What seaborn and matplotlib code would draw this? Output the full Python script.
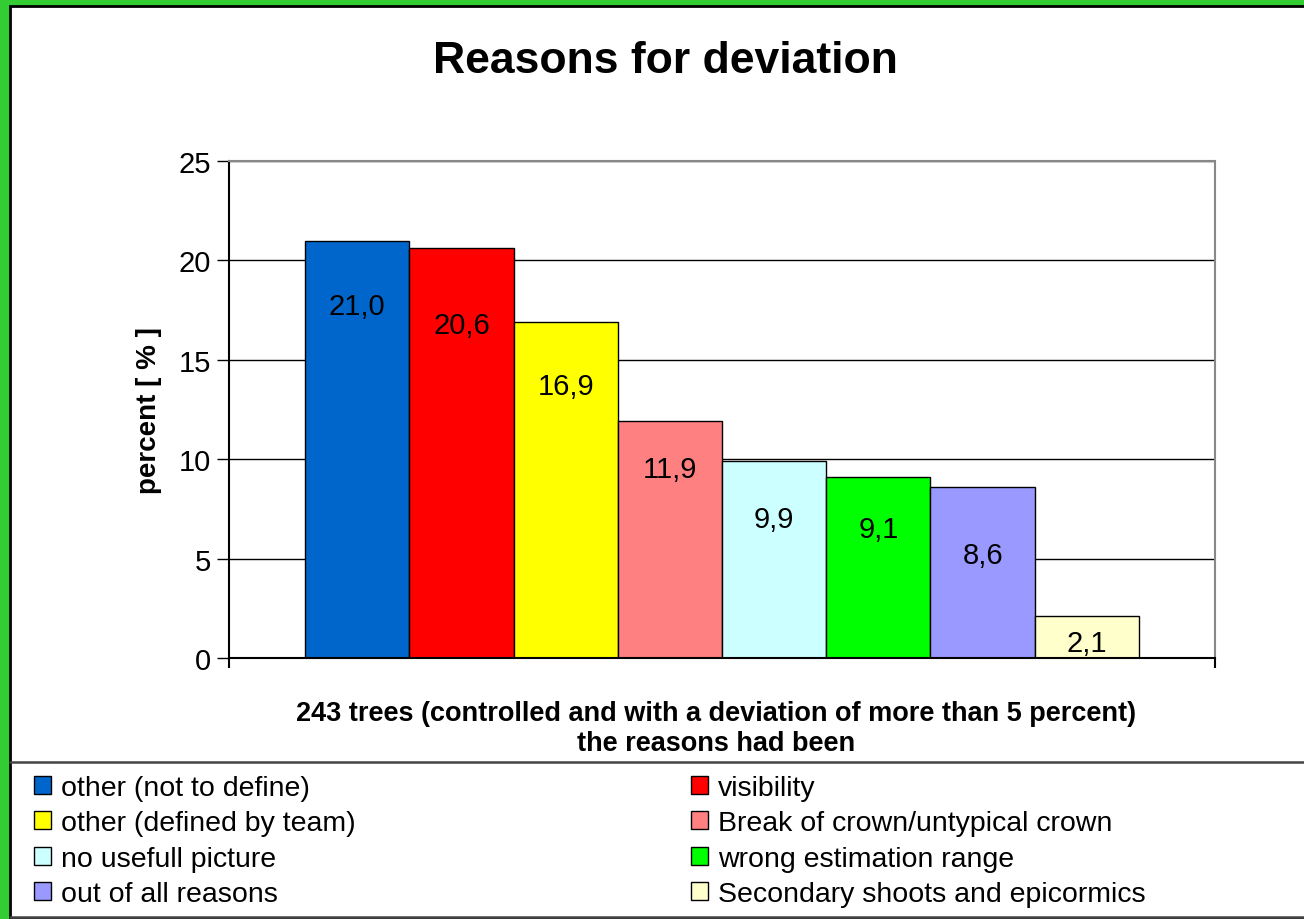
import seaborn as sns
import pandas as pd
import matplotlib.pyplot as plt
from matplotlib.patches import Rectangle, Patch
from matplotlib.lines import Line2D

reasons = ['other (not to define)', 'visibility', 'other (defined by team)',
           'Break of crown/untypical crown', 'no usefull picture',
           'wrong estimation range', 'out of all reasons',
           'Secondary shoots and epicormics']
percent = [21.0, 20.6, 16.9, 11.9, 9.9, 9.1, 8.6, 2.1]
colors = ['#0066CC', '#FF0000', '#FFFF00', '#FF8080', '#CCFFFF', '#00FF00', '#9999FF', '#FFFFCC']
# how far below the bar top each value label sits (data units)
label_drop = [3.3, 3.85, 3.22, 2.4, 2.9, 2.6, 3.4, 1.35]

df = pd.DataFrame({'reason': reasons, 'percent': percent})

sns.set_style('white')
plt.rcParams['font.family'] = ['Liberation Sans', 'DejaVu Sans']
for key in ['text.color', 'axes.labelcolor', 'xtick.color', 'ytick.color']:
    plt.rcParams[key] = 'black'

fig = plt.figure(figsize=(13.04, 9.2), dpi=100)
fig.patch.set_facecolor('#33CC33')
W, H = 1304, 920
fig.patches.append(Rectangle((10 / W, 0), 1 - 10 / W + 0.01, 1 - 7 / H, transform=fig.transFigure,
                             facecolor='white', edgecolor='black', lw=2, zorder=-2))
# legend box lines
fig.add_artist(Line2D([10 / W, 1], [1 - 763 / H] * 2, transform=fig.transFigure, color='#444444', lw=1.8))
fig.add_artist(Line2D([10 / W, 1], [1 - 918 / H] * 2, transform=fig.transFigure, color='#444444', lw=1.8))

ax = fig.add_axes([229 / W, 1 - 659 / H, 986 / W, 497 / H])
sns.barplot(data=df, x='reason', y='percent', hue='reason', palette=colors, saturation=1,
            width=1.0, dodge=False, legend=False, edgecolor='black', linewidth=1, ax=ax)

ax.set_xlim(-1.23, 8.23)
ax.set_ylim(0, 25)
ax.set_yticks([0, 5, 10, 15, 20, 25])
ax.yaxis.grid(True, color='black', lw=1)
ax.set_axisbelow(True)
ax.set_xticks([-1.23, 8.23])
ax.set_xticklabels(['', ''])
ax.tick_params(axis='y', direction='out', length=9, width=1, labelsize=21, left=True, pad=4)
ax.tick_params(axis='x', direction='out', length=7, width=1.5, bottom=True)
for side in ['left', 'bottom']:
    ax.spines[side].set_color('black')
    ax.spines[side].set_linewidth(1.5)
for side in ['top', 'right']:
    ax.spines[side].set_color('#888888')
    ax.spines[side].set_linewidth(1.5)
    ax.spines[side].set_visible(True)

for i, v in enumerate(percent):
    ax.text(i, v - label_drop[i], f'{v:.1f}'.replace('.', ','), ha='center', va='center', fontsize=21)

ax.set_ylabel('percent [ % ]', fontsize=20, fontweight='bold', labelpad=12)
ax.set_xlabel('243 trees (controlled and with a deviation of more than 5 percent)\nthe reasons had been',
              fontsize=19.5, fontweight='bold', labelpad=21, linespacing=1.2)
ax.xaxis.set_label_coords(0.494, -0.085, transform=ax.transAxes)
ax.xaxis.label.set_va('top')

fig.text(665 / W, 1 - 62 / H, 'Reasons for deviation', ha='center', va='center',
         fontsize=32, fontweight='bold')

handles = [Patch(facecolor=c, edgecolor='black', lw=1) for c in colors]
left_idx = [0, 2, 4, 6]
right_idx = [1, 3, 5, 7]
for idx, x0 in [(left_idx, 34), (right_idx, 691)]:
    fig.legend([handles[i] for i in idx], [reasons[i] for i in idx], loc='upper left',
               bbox_to_anchor=(x0 / W, 1 - 776 / H), frameon=False, fontsize=20.5,
               handlelength=0.6, handleheight=0.6, handletextpad=0.35,
               labelspacing=0.33, borderpad=0, borderaxespad=0)

fig.savefig('out.png', dpi=100, facecolor=fig.get_facecolor())
